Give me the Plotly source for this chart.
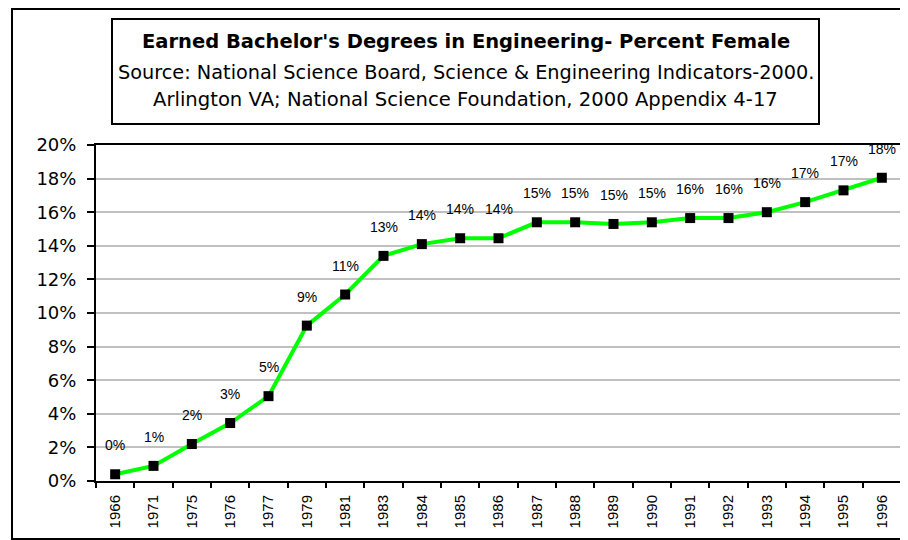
import plotly.graph_objects as go

years = ["1966", "1971", "1975", "1976", "1977", "1979", "1981", "1983", "1984", "1985",
         "1986", "1987", "1988", "1989", "1990", "1991", "1992", "1993", "1994", "1995", "1996"]
pct_female = [0.4, 0.9, 2.2, 3.45, 5.05, 9.25, 11.1, 13.4, 14.1, 14.45,
              14.45, 15.4, 15.4, 15.3, 15.4, 15.65, 15.65, 16.0, 16.6, 17.3, 18.05]
point_labels = ["0%", "1%", "2%", "3%", "5%", "9%", "11%", "13%", "14%", "14%",
                "14%", "15%", "15%", "15%", "15%", "16%", "16%", "16%", "17%", "17%", "18%"]
y_ticks = [0, 2, 4, 6, 8, 10, 12, 14, 16, 18, 20]
y_tick_text = [f"{v}%" for v in y_ticks]

title_lines = [
    "<b>Earned Bachelor's Degrees in Engineering- Percent Female</b>",
    "Source: National Science Board, Science & Engineering Indicators-2000.",
    "Arlington VA; National Science Foundation, 2000 Appendix 4-17",
]

# page body has an 8px default margin; figure is placed at (8, 8)
OX, OY = 8, 8
W, H = 900, 532
L, T = 96 - OX, 145 - OY
R = W - (901 - OX)
B = H - (481 - OY)
pw, ph = W - L - R, H - T - B


def px(x):
    return (x - OX - L) / pw


def py(y):
    return (H - B - (y - OY)) / ph


fig = go.Figure()
fig.add_trace(go.Scatter(
    x=years, y=pct_female, mode="lines+markers",
    line=dict(color="#00FF00", width=4),
    marker=dict(symbol="square", size=10, color="black", line=dict(width=0)),
    showlegend=False, hoverinfo="skip",
))

annotations = []
for i, (v, lab) in enumerate(zip(pct_female, point_labels)):
    annotations.append(dict(
        x=i, y=v, xref="x", yref="y", text=lab, showarrow=False,
        yshift=29, xanchor="center", yanchor="middle",
        font=dict(family="Arial, Liberation Sans", size=14, color="black"),
    ))

title_y = [41, 72, 99]
title_size = [19.5, 19.3, 19.6]
for txt, yy, fs in zip(title_lines, title_y, title_size):
    annotations.append(dict(
        x=px(465.5), y=py(yy), xref="paper", yref="paper", text=txt, showarrow=False,
        xanchor="center", yanchor="middle",
        font=dict(family="DejaVu Sans", size=fs, color="black"),
    ))

shapes = [
    dict(type="rect", xref="paper", yref="paper",
         x0=px(12), x1=px(915), y0=py(539), y1=py(9),
         line=dict(color="black", width=2), fillcolor="rgba(0,0,0,0)", layer="below"),
    dict(type="rect", xref="paper", yref="paper",
         x0=px(112), x1=px(819), y0=py(124), y1=py(19),
         line=dict(color="black", width=2), fillcolor="white"),
]

fig.update_layout(
    width=W, height=H, autosize=False,
    margin=dict(l=L, r=R, t=T, b=B, pad=0),
    paper_bgcolor="white", plot_bgcolor="white",
    annotations=annotations, shapes=shapes,
    showlegend=False,
)
fig.update_xaxes(
    type="category", categoryorder="array", categoryarray=years,
    range=[-0.5, len(years) - 0.5], autorange=False,
    tickangle=-90, tickson="boundaries", ticks="outside", ticklen=5, tickwidth=2,
    tickcolor="black", showline=True, linecolor="black", linewidth=2, mirror=True,
    showgrid=False, automargin=False, ticklabelstandoff=6,
    tickfont=dict(family="Arial, Liberation Sans", size=15, color="black"),
)
fig.update_yaxes(
    range=[0, 20], autorange=False, tickmode="array", tickvals=y_ticks, ticktext=y_tick_text,
    ticks="outside", ticklen=7, tickwidth=2, tickcolor="black",
    showline=True, linecolor="black", linewidth=2, mirror=True,
    showgrid=True, gridcolor="#c0c0c0", gridwidth=2, zeroline=False,
    automargin=False, ticklabelstandoff=7,
    tickfont=dict(family="DejaVu Sans", size=18, color="black"),
)

fig.write_html("out.html")
